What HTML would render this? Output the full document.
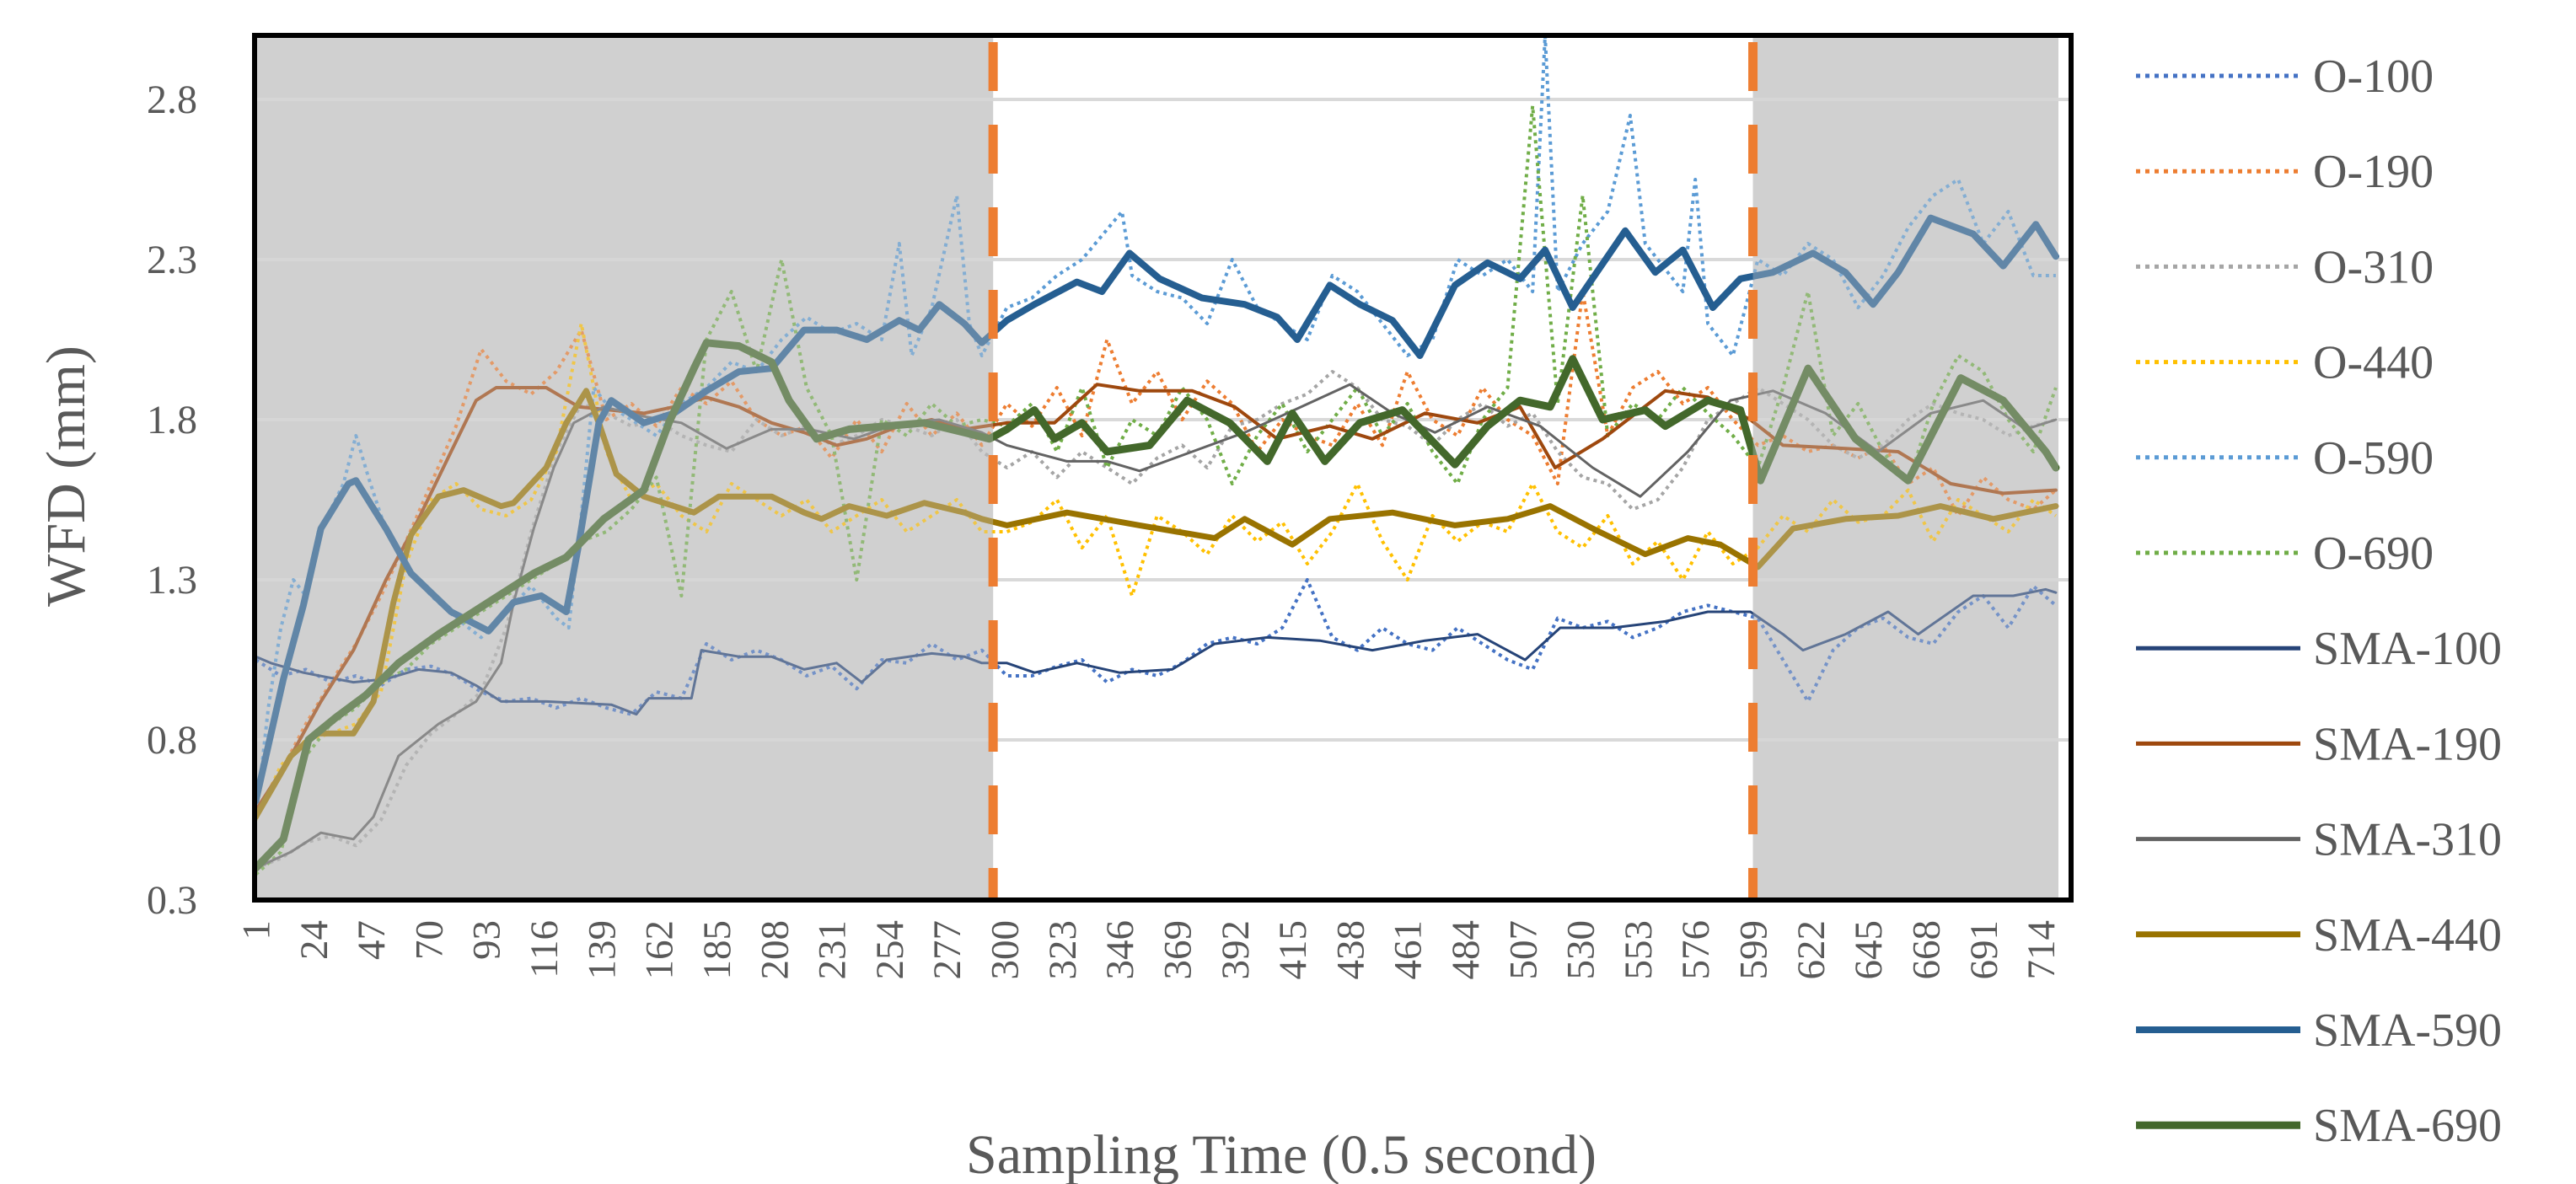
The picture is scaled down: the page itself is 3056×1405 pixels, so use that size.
<!DOCTYPE html>
<html><head><meta charset="utf-8">
<style>
html,body{margin:0;padding:0;background:#fff;}
svg{display:block;font-family:"Liberation Serif",serif;}
</style></head>
<body>
<svg id="chart" width="3056" height="1405" viewBox="0 0 3056 1405" xmlns="http://www.w3.org/2000/svg">
<defs><clipPath id="pc"><rect x="302" y="42" width="2155" height="1026"/></clipPath></defs>
<g id="bg"></g><g id="grid"></g><g id="series" clip-path="url(#pc)"></g><g id="overlay"></g><g id="axes"></g><g id="legend"></g>
<text x="0" y="0" transform="translate(100,565) rotate(-90)" text-anchor="middle" font-size="66" fill="#595959">WFD (mm)</text>
<text x="1520" y="1392" text-anchor="middle" font-size="66" fill="#595959">Sampling Time (0.5 second)</text>
</svg>
<script>
const yTicks=[0.3,0.8,1.3,1.8,2.3,2.8];
const xTickLabels=[1,24,47,70,93,116,139,162,185,208,231,254,277,300,323,346,369,392,415,438,461,484,507,530,553,576,599,622,645,668,691,714];
const phaseBounds=[295,599];
const seriesNames=["O-100","O-190","O-310","O-440","O-590","O-690","SMA-100","SMA-190","SMA-310","SMA-440","SMA-590","SMA-690"];
const oIdx=[0,10,20,30,40,50,60,70,80,90,100,110,120,130,140,150,160,170,180,190,200,210,220,230,240,250,260,270,280,290,300,310,320,330,340,350,360,370,380,390,400,410,420,430,440,450,460,470,480,490,500,510,520,530,540,550,560,570,580,590,600,610,620,630,640,650,660,670,680,690,700,710,720];
const o100=[1.05,1.0,1.02,0.98,1.0,0.97,1.02,1.03,1.0,0.95,0.92,0.93,0.9,0.93,0.9,0.88,0.95,0.93,1.1,1.05,1.08,1.05,1.0,1.03,0.96,1.05,1.04,1.1,1.05,1.08,1.0,1.0,1.03,1.05,0.98,1.02,1.0,1.04,1.1,1.12,1.1,1.15,1.3,1.12,1.08,1.15,1.1,1.08,1.15,1.1,1.05,1.02,1.18,1.15,1.17,1.12,1.15,1.2,1.22,1.2,1.18,1.05,0.92,1.08,1.15,1.18,1.12,1.1,1.2,1.25,1.15,1.28,1.22];
const o190=[0.58,0.7,0.85,0.98,1.1,1.25,1.42,1.6,1.78,2.02,1.92,1.88,1.95,2.08,1.8,1.85,1.78,1.9,1.85,1.92,1.8,1.75,1.78,1.68,1.8,1.7,1.85,1.75,1.82,1.72,1.85,1.78,1.9,1.75,2.05,1.85,1.95,1.8,1.92,1.85,1.7,1.8,1.75,1.72,1.85,1.72,1.95,1.8,1.75,1.9,1.8,1.75,1.6,2.2,1.75,1.9,1.95,1.85,1.9,1.8,1.72,1.75,1.7,1.72,1.68,1.72,1.6,1.65,1.5,1.62,1.55,1.52,1.58];
const o310=[0.4,0.43,0.48,0.5,0.47,0.55,0.72,0.82,0.88,0.95,1.15,1.45,1.7,1.85,1.82,1.78,1.8,1.75,1.72,1.7,1.8,1.75,1.78,1.72,1.75,1.8,1.78,1.75,1.8,1.7,1.65,1.7,1.62,1.7,1.65,1.6,1.68,1.72,1.65,1.78,1.8,1.85,1.88,1.95,1.9,1.8,1.78,1.72,1.8,1.85,1.78,1.82,1.7,1.62,1.6,1.52,1.55,1.65,1.8,1.85,1.9,1.85,1.8,1.72,1.68,1.72,1.8,1.85,1.82,1.8,1.75,1.78,1.8];
const o440=[0.55,0.72,0.8,0.82,0.85,0.95,1.35,1.55,1.6,1.52,1.5,1.55,1.7,2.1,1.7,1.55,1.6,1.5,1.45,1.6,1.55,1.5,1.55,1.45,1.5,1.55,1.45,1.5,1.55,1.45,1.45,1.48,1.55,1.4,1.5,1.25,1.5,1.45,1.38,1.5,1.42,1.48,1.35,1.45,1.6,1.42,1.3,1.5,1.42,1.48,1.45,1.6,1.45,1.4,1.5,1.35,1.42,1.3,1.45,1.35,1.4,1.5,1.45,1.55,1.48,1.5,1.58,1.42,1.55,1.5,1.45,1.55,1.5];
const o590Idx=[0,5,10,15,20,25,30,35,40,45,50,55,60,70,80,90,100,110,120,125,130,135,140,150,160,170,180,190,200,210,220,230,240,250,257,262,270,280,285,290,300,310,320,330,346,350,360,370,380,390,400,410,420,430,440,450,460,470,480,490,500,510,515,520,530,540,549,555,560,570,575,580,590,600,610,620,630,640,650,660,670,680,690,700,710,720];
const o590=[0.55,0.9,1.15,1.3,1.25,1.45,1.52,1.6,1.75,1.62,1.5,1.42,1.35,1.25,1.18,1.12,1.2,1.28,1.18,1.15,1.5,1.9,1.85,1.8,1.75,1.85,1.9,1.98,1.95,2.05,2.12,2.07,2.1,2.05,2.35,2.0,2.15,2.5,2.1,2.0,2.15,2.18,2.25,2.3,2.45,2.25,2.2,2.18,2.1,2.3,2.15,2.1,2.05,2.25,2.2,2.1,2.0,2.05,2.3,2.25,2.3,2.2,3.0,2.2,2.35,2.45,2.75,2.35,2.3,2.2,2.55,2.1,2.0,2.3,2.25,2.35,2.3,2.15,2.25,2.4,2.5,2.55,2.35,2.45,2.25,2.25];
const o690=[0.38,0.45,0.75,0.85,0.9,0.98,1.02,1.1,1.15,1.2,1.25,1.3,1.35,1.42,1.45,1.52,1.62,1.25,2.05,2.2,1.95,2.3,1.9,1.75,1.3,1.8,1.75,1.85,1.78,1.8,1.78,1.85,1.7,1.9,1.65,1.8,1.75,1.9,1.8,1.6,1.75,1.85,1.7,1.8,1.9,1.75,1.85,1.7,1.6,1.8,1.9,2.78,1.85,2.5,1.75,1.85,1.8,1.9,1.82,1.75,1.65,1.9,2.2,1.75,1.85,1.7,1.6,1.85,2.0,1.95,1.8,1.7,1.9];
const sma100Idx=[0,6,19,39,52,65,78,88,98,116,142,152,157,174,178,193,206,219,232,242,252,270,283,290,300,311,328,345,366,383,404,425,446,467,488,507,521,542,563,580,597,610,618,635,652,664,686,702,715,720];
const sma100=[1.06,1.04,1.01,0.98,0.99,1.02,1.01,0.97,0.92,0.92,0.91,0.88,0.93,0.93,1.08,1.06,1.06,1.02,1.04,0.98,1.05,1.07,1.06,1.04,1.04,1.01,1.04,1.01,1.02,1.10,1.12,1.11,1.08,1.11,1.13,1.05,1.15,1.15,1.17,1.20,1.20,1.13,1.08,1.13,1.20,1.13,1.25,1.25,1.27,1.26];
const sma190Idx=[0,14,26,39,52,65,78,88,96,116,129,142,155,167,180,193,206,219,232,244,257,270,283,300,319,336,353,374,391,408,429,446,467,488,505,519,538,563,580,597,610,635,656,677,698,720];
const sma190=[0.58,0.75,0.92,1.08,1.30,1.49,1.70,1.86,1.90,1.90,1.84,1.83,1.82,1.84,1.87,1.84,1.79,1.76,1.72,1.74,1.78,1.80,1.77,1.79,1.79,1.91,1.89,1.89,1.84,1.74,1.78,1.74,1.82,1.79,1.84,1.65,1.74,1.89,1.87,1.80,1.72,1.71,1.70,1.60,1.57,1.58];
const sma310Idx=[0,14,26,39,47,57,73,88,98,103,111,119,127,139,155,170,188,206,221,239,257,273,290,300,324,340,353,374,395,412,437,454,471,492,513,534,553,572,589,606,627,648,669,690,707,720];
const sma310=[0.40,0.45,0.51,0.49,0.56,0.75,0.85,0.92,1.04,1.23,1.46,1.65,1.79,1.84,1.81,1.79,1.71,1.77,1.77,1.74,1.79,1.80,1.76,1.72,1.67,1.67,1.64,1.70,1.76,1.82,1.91,1.82,1.76,1.84,1.78,1.65,1.56,1.70,1.86,1.89,1.82,1.70,1.82,1.86,1.77,1.80];
const sma440Idx=[0,14,24,39,47,55,62,73,83,98,103,116,124,132,137,144,155,167,175,185,206,219,226,237,252,267,283,290,300,324,353,383,395,414,429,454,479,500,517,534,555,572,585,600,614,635,656,673,694,720];
const sma440=[0.56,0.75,0.82,0.82,0.92,1.23,1.44,1.56,1.58,1.53,1.54,1.65,1.79,1.89,1.79,1.63,1.56,1.53,1.51,1.56,1.56,1.51,1.49,1.53,1.50,1.54,1.51,1.49,1.47,1.51,1.47,1.43,1.49,1.41,1.49,1.51,1.47,1.49,1.53,1.46,1.38,1.43,1.41,1.34,1.46,1.49,1.50,1.53,1.49,1.53];
const sma590Idx=[0,11,19,26,37,40,52,62,78,93,103,114,124,129,137,142,155,167,180,193,206,219,232,244,257,265,273,283,290,300,311,328,338,349,361,378,395,408,416,429,441,454,465,479,492,505,515,526,547,559,570,582,593,606,622,635,646,656,669,686,698,711,720];
const sma590=[0.61,0.99,1.22,1.46,1.60,1.61,1.46,1.32,1.20,1.14,1.23,1.25,1.20,1.41,1.79,1.86,1.79,1.82,1.89,1.95,1.96,2.08,2.08,2.05,2.11,2.08,2.16,2.10,2.04,2.11,2.16,2.23,2.20,2.32,2.24,2.18,2.16,2.12,2.05,2.22,2.16,2.11,2.00,2.22,2.29,2.24,2.33,2.15,2.39,2.26,2.33,2.15,2.24,2.26,2.32,2.26,2.16,2.26,2.43,2.38,2.28,2.41,2.31];
const sma690Idx=[0,11,21,32,44,57,73,93,111,124,139,155,165,175,180,193,206,213,224,237,252,267,283,293,300,311,319,330,340,357,372,389,404,414,427,441,458,479,492,505,517,526,538,555,563,580,593,601,620,639,660,681,698,715,720];
const sma690=[0.40,0.49,0.80,0.87,0.94,1.04,1.13,1.23,1.32,1.37,1.49,1.58,1.79,1.96,2.04,2.03,1.98,1.86,1.74,1.77,1.78,1.79,1.76,1.74,1.77,1.83,1.74,1.79,1.70,1.72,1.86,1.79,1.67,1.82,1.67,1.79,1.83,1.66,1.78,1.86,1.84,1.99,1.80,1.83,1.78,1.86,1.83,1.61,1.96,1.74,1.61,1.93,1.86,1.70,1.65];

const NS="http://www.w3.org/2000/svg";
const PL=302,PR=2457,PT=42,PB=1068,DX=2.97,YMIN=0.3,YMAX=3.0;
function xs(i){return PL+(i+0.5)*DX;}
function ys(v){return PB-(v-YMIN)/(YMAX-YMIN)*(PB-PT);}
function mk(tag,attrs,parent){const e=document.createElementNS(NS,tag);for(const k in attrs)e.setAttribute(k,attrs[k]);parent.appendChild(e);return e;}
const bg=document.getElementById('bg'),grid=document.getElementById('grid'),ser=document.getElementById('series'),ov=document.getElementById('overlay'),ax=document.getElementById('axes'),lg=document.getElementById('legend');
const xA=PL, xB=xs(phaseBounds[0]-0.5), xC=xs(phaseBounds[1]-1), xD=2442;
let r=mk('rect',{x:xA,y:PT,width:xB-xA,height:PB-PT,fill:'#d0d0d0'},bg);


r=mk('rect',{x:xC,y:PT,width:xD-xC,height:PB-PT,fill:'#d0d0d0'},bg);


yTicks.forEach(v=>{
  if(v>YMIN){const l=mk('line',{x1:PL,x2:PR,y1:ys(v),y2:ys(v),stroke:'#d9d9d9','stroke-width':4},grid);
  
  }
  const t=mk('text',{x:234,y:ys(v)+16,'text-anchor':'end','font-size':48,fill:'#595959'},ax);
  t.textContent=v.toFixed(1);
  
  
});
xTickLabels.forEach(k=>{
  const x=xs(k-1);
  const t=mk('text',{transform:`translate(${x+16},1092) rotate(-90)`,'text-anchor':'end','font-size':47,fill:'#595959'},ax);
  t.textContent=k;
  
  
});
const styles={
 "O-100":{c:'#4472c4',w:4,d:'4 5'},"O-190":{c:'#ed7d31',w:4,d:'4 5'},"O-310":{c:'#a5a5a5',w:4,d:'4 5'},
 "O-440":{c:'#ffc000',w:4,d:'4 5'},"O-590":{c:'#5b9bd5',w:4,d:'4 5'},"O-690":{c:'#70ad47',w:4,d:'4 5'},
 "SMA-100":{c:'#264478',w:3},"SMA-190":{c:'#9e480e',w:4},"SMA-310":{c:'#636363',w:3},
 "SMA-440":{c:'#997300',w:7},"SMA-590":{c:'#255e91',w:8},"SMA-690":{c:'#43682b',w:9}};
const seriesData=[[oIdx,o100],[oIdx,o190],[oIdx,o310],[oIdx,o440],[o590Idx,o590],[oIdx,o690],
 [sma100Idx,sma100],[sma190Idx,sma190],[sma310Idx,sma310],[sma440Idx,sma440],[sma590Idx,sma590],[sma690Idx,sma690]];
seriesNames.forEach((nm,si)=>{
  const [ix,vs]=seriesData[si];const n=Math.min(ix.length,vs.length);
  const pts=[];for(let k=0;k<n;k++)pts.push(xs(Math.min(ix[k],719)).toFixed(1)+','+ys(vs[k]).toFixed(1));
  const s=styles[nm];
  const a={points:pts.join(' '),fill:'none',stroke:s.c,'stroke-width':s.w,'stroke-linejoin':'round','stroke-linecap':'round'};
  if(s.d){a['stroke-dasharray']=s.d;a['stroke-linecap']='butt';}
  const p=mk('polyline',a,ser);
  
  
  const ly=90+si*113.2;
  const ll=mk('line',{x1:2534,x2:2729,y1:ly,y2:ly,stroke:s.c,'stroke-width':Math.max(s.w,5)},lg);
  if(s.d)ll.setAttribute('stroke-dasharray','5 6');
  
  
  const lt=mk('text',{x:2744,y:ly+19,'font-size':56,fill:'#595959'},lg);
  lt.textContent=nm;
  
  
});
r=mk('rect',{x:xA,y:PT,width:xB-xA,height:PB-PT,fill:'rgba(208,208,208,0.35)'},ov);


r=mk('rect',{x:xC,y:PT,width:xD-xC,height:PB-PT,fill:'rgba(208,208,208,0.35)'},ov);


[xB,xC].forEach((x,i)=>{
  const l=mk('line',{x1:x,x2:x,y1:PT+8,y2:PB,stroke:'#ed7d31','stroke-width':11,'stroke-dasharray':'58 40'},ov);
  
  
});
const fr=mk('rect',{x:PL,y:PT,width:PR-PL,height:PB-PT,fill:'none',stroke:'#000','stroke-width':6},ax);


</script>
</body></html>
